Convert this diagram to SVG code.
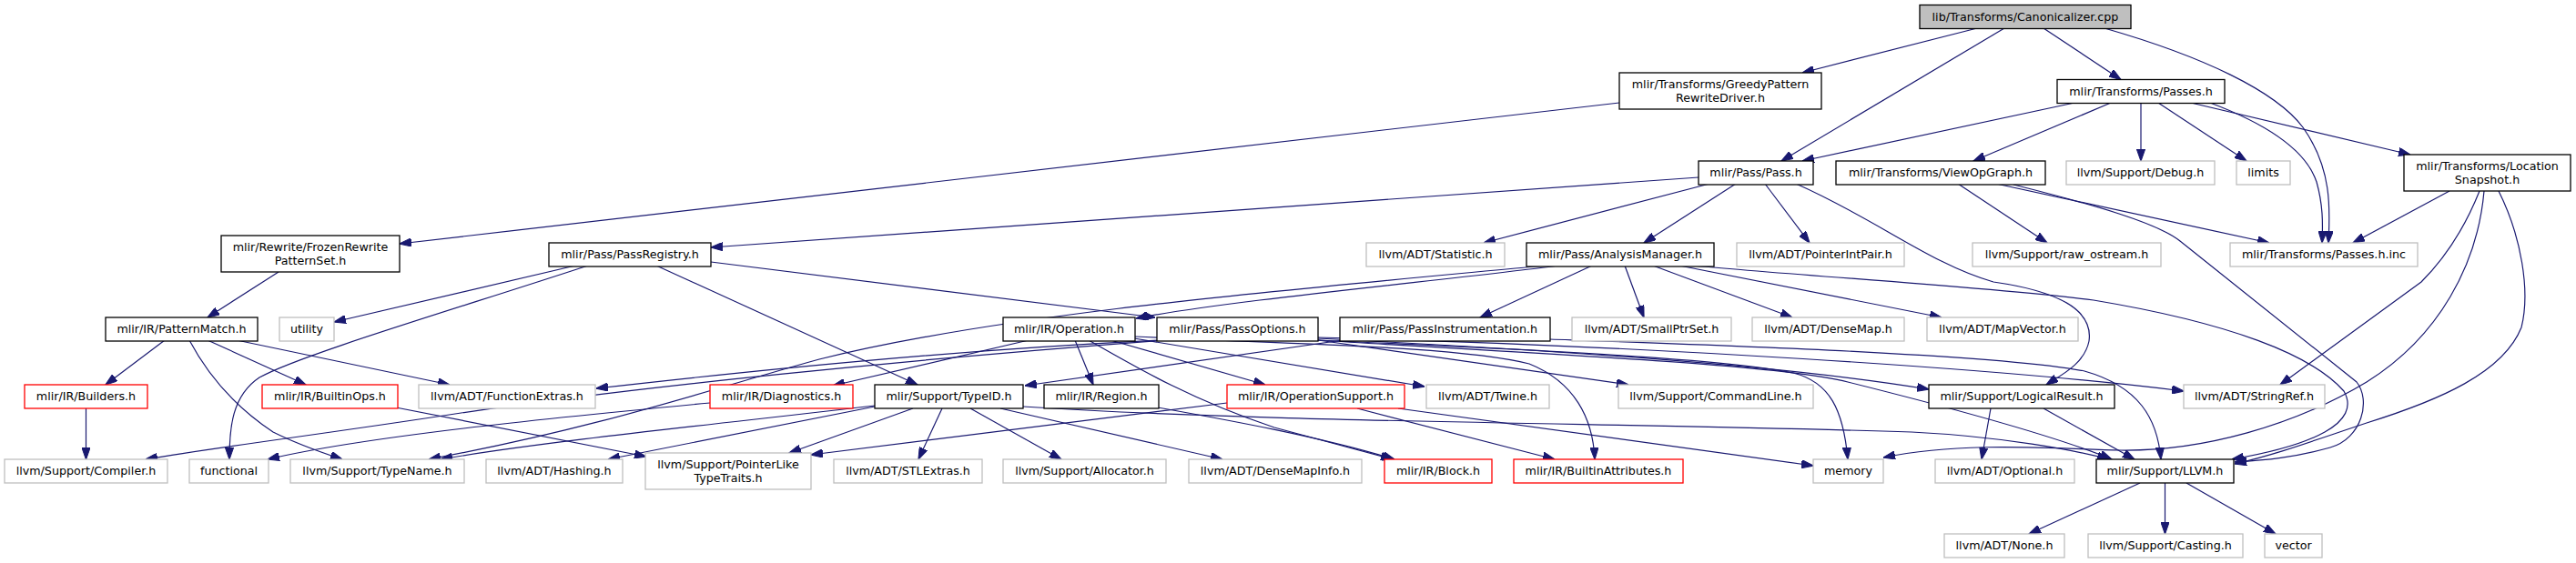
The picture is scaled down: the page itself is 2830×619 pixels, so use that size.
<svg xmlns="http://www.w3.org/2000/svg" width="2830" height="619" viewBox="0 0 2830 619">
<style>
rect{stroke-width:1.3}
.b rect{fill:#fff;stroke:#000}
.g rect{fill:#fff;stroke:#bfbfbf}
.r rect{fill:#fff;stroke:#ff0000}
.root rect{fill:#bfbfbf;stroke:#000}
text{font-family:"DejaVu Sans","Liberation Sans",sans-serif;font-size:12.7px;text-anchor:middle;fill:#000}
#edges path{fill:none;stroke:#191970;stroke-width:1.2;marker-end:url(#a)}
</style>
<defs>
<marker id="a" viewBox="0 0 13.3 9.3" refX="13" refY="4.65" markerWidth="13.3" markerHeight="9.3" markerUnits="userSpaceOnUse" orient="auto">
<path d="M0,0 L13.3,4.65 L0,9.3 z" fill="#191970" stroke="#191970" stroke-width="1"/>
</marker>
</defs>
<rect width="2830" height="619" fill="#fff"/>
<g id="edges">
<path d="M2172,31 L1980,80"/>
<path d="M2202,31 L1957,177"/>
<path d="M2245,31 L2330,87.5"/>
<path d="M2312,31 C2420,62 2500,100 2530,140 C2562,185 2560,230 2558,267"/>
<path d="M1779,113 L439,268"/>
<path d="M2279,113 L1980,177"/>
<path d="M2319,113 L2168,177"/>
<path d="M2352,113 L2352,177"/>
<path d="M2371,113 L2468,177"/>
<path d="M2407,113 L2648,170"/>
<path d="M2428,113 C2500,140 2535,170 2545,200 C2552,225 2552,245 2551,267"/>
<path d="M1866,195 L781,272"/>
<path d="M1878,202 L1630,267"/>
<path d="M1907,202 L1806,267"/>
<path d="M1939,202 L1988,267"/>
<path d="M1973,202 C2060,240 2120,290 2190,310 C2260,320 2300,340 2295,375 C2290,400 2265,412 2248,423"/>
<path d="M2151,202 L2249,267"/>
<path d="M2193,202 L2493,267"/>
<path d="M2212,203 C2300,225 2370,245 2395,265 L2589,420 C2605,440 2595,482 2560,492 C2520,503 2490,506 2455,508"/>
<path d="M2691,210 L2585,267"/>
<path d="M2724,210 C2710,245 2690,280 2660,310 L2505,423"/>
<path d="M2729,210 C2722,290 2680,370 2600,420 C2520,468 2420,496 2330,495 C2250,493 2160,485 2069,503"/>
<path d="M2745,210 C2770,260 2780,320 2770,360 C2750,410 2680,440 2600,465 C2540,485 2500,500 2455,510"/>
<path d="M306,299 L228,349"/>
<path d="M632,292 L367,354"/>
<path d="M646,292 C500,340 330,390 285,415 C255,435 252,470 252,505"/>
<path d="M721,292 L1008,423"/>
<path d="M781,288 L1269,349"/>
<path d="M181,374 L116,423"/>
<path d="M208,374 C235,425 270,455 300,475 C330,490 355,498 376,505"/>
<path d="M228,374 L336,423"/>
<path d="M260,374 L494,423"/>
<path d="M94.5,449 L94.5,505"/>
<path d="M435,448 L710,502"/>
<path d="M1712,292 C1600,307 1350,330 1248,350"/>
<path d="M1697,292 C1400,320 1100,345 900,395 C780,428 660,470 471,505"/>
<path d="M1749,292 L1626,349"/>
<path d="M1785,292 L1806,349"/>
<path d="M1816,292 L1969,349"/>
<path d="M1845,292 L2133,349"/>
<path d="M1860,292 C2000,305 2180,315 2300,330 C2450,355 2540,390 2575,430 C2595,465 2540,490 2452,505"/>
<path d="M1703,373 C1900,380 2200,390 2290,408 C2350,425 2370,460 2374,505"/>
<path d="M1475,374 L1126,424"/>
<path d="M1275,374 C1050,385 850,405 655,427"/>
<path d="M1280,374 C1000,395 700,425 500,455 C350,478 250,490 160,505"/>
<path d="M780,443 C600,460 400,480 294,505"/>
<path d="M1448,374 L1789,423"/>
<path d="M1448,372 C1700,385 1950,400 2119,428"/>
<path d="M1448,371 C1800,380 2200,405 2399,430"/>
<path d="M1448,374 C1700,390 1950,400 2030,420 C2150,450 2260,480 2320,505"/>
<path d="M1448,374 C1700,385 1900,395 1970,410 C2010,420 2025,450 2030,505"/>
<path d="M1130,374 L915,424"/>
<path d="M1181,374 L1201,423"/>
<path d="M1220,374 L1390,423"/>
<path d="M1246,372 L1565,425"/>
<path d="M1196,374 C1250,405 1310,440 1400,470 L1530,505"/>
<path d="M1247,370 C1400,378 1600,380 1680,400 C1730,420 1750,460 1752,505"/>
<path d="M1003,449 L867,498"/>
<path d="M1035,449 L1009,505"/>
<path d="M1066,449 L1166,505"/>
<path d="M1099,449 L1343,505"/>
<path d="M961,447 L668,505"/>
<path d="M961,446 C800,465 600,485 484,505"/>
<path d="M1124,447 C1400,465 1800,465 2100,475 C2200,480 2280,495 2317,505"/>
<path d="M1272,448 C1350,462 1450,480 1532,505"/>
<path d="M1348,443 L891,500"/>
<path d="M1491,449 L1708,505"/>
<path d="M1536,449 L1992,512"/>
<path d="M2187,449 L2177,505"/>
<path d="M2245,449 L2345,505"/>
<path d="M2351,531 L2229,587"/>
<path d="M2378.5,531 L2378.5,587"/>
<path d="M2402,531 L2500,587"/>
</g>
<g id="canonicalizer" class="root"><rect x="2109" y="5.5" width="232" height="26"/><text x="2225" y="22.5">lib/Transforms/Canonicalizer.cpp</text></g>
<g id="greedy" class="b"><rect x="1779" y="80" width="222" height="40"/><text x="1890" y="97">mlir/Transforms/GreedyPattern</text><text x="1890" y="111.7">RewriteDriver.h</text></g>
<g id="passes_h" class="b"><rect x="2260" y="87.5" width="184" height="26"/><text x="2352" y="104.5">mlir/Transforms/Passes.h</text></g>
<g id="pass_h" class="b"><rect x="1866" y="177" width="126" height="26"/><text x="1929" y="194">mlir/Pass/Pass.h</text></g>
<g id="viewopgraph" class="b"><rect x="2017" y="177" width="230" height="26"/><text x="2132" y="194">mlir/Transforms/ViewOpGraph.h</text></g>
<g id="debug" class="g"><rect x="2270" y="177" width="163" height="26"/><text x="2351.5" y="194">llvm/Support/Debug.h</text></g>
<g id="limits" class="g"><rect x="2457" y="177" width="59" height="26"/><text x="2486.5" y="194">limits</text></g>
<g id="locsnap" class="b"><rect x="2641" y="170" width="183" height="40"/><text x="2732.5" y="187">mlir/Transforms/Location</text><text x="2732.5" y="201.7">Snapshot.h</text></g>
<g id="frozen" class="b"><rect x="243" y="259" width="196" height="40"/><text x="341" y="276">mlir/Rewrite/FrozenRewrite</text><text x="341" y="290.7">PatternSet.h</text></g>
<g id="passregistry" class="b"><rect x="603" y="267" width="178" height="26"/><text x="692" y="284">mlir/Pass/PassRegistry.h</text></g>
<g id="statistic" class="g"><rect x="1501" y="267" width="152" height="26"/><text x="1577" y="284">llvm/ADT/Statistic.h</text></g>
<g id="analysismanager" class="b"><rect x="1677" y="267" width="206" height="26"/><text x="1780" y="284">mlir/Pass/AnalysisManager.h</text></g>
<g id="pointerintpair" class="g"><rect x="1908" y="267" width="184" height="26"/><text x="2000" y="284">llvm/ADT/PointerIntPair.h</text></g>
<g id="raw_ostream" class="g"><rect x="2167" y="267" width="207" height="26"/><text x="2270.5" y="284">llvm/Support/raw_ostream.h</text></g>
<g id="passes_inc" class="g"><rect x="2450" y="267" width="206" height="26"/><text x="2553" y="284">mlir/Transforms/Passes.h.inc</text></g>
<g id="patternmatch" class="b"><rect x="116" y="349" width="167" height="26"/><text x="199.5" y="366">mlir/IR/PatternMatch.h</text></g>
<g id="utility" class="g"><rect x="307" y="349" width="60" height="26"/><text x="337" y="366">utility</text></g>
<g id="operation" class="b"><rect x="1102" y="349" width="145" height="26"/><text x="1174.5" y="366">mlir/IR/Operation.h</text></g>
<g id="passoptions" class="b"><rect x="1271" y="349" width="177" height="26"/><text x="1359.5" y="366">mlir/Pass/PassOptions.h</text></g>
<g id="passinstrumentation" class="b"><rect x="1472" y="349" width="231" height="26"/><text x="1587.5" y="366">mlir/Pass/PassInstrumentation.h</text></g>
<g id="smallptrset" class="g"><rect x="1727" y="349" width="175" height="26"/><text x="1814.5" y="366">llvm/ADT/SmallPtrSet.h</text></g>
<g id="densemap" class="g"><rect x="1925" y="349" width="167" height="26"/><text x="2008.5" y="366">llvm/ADT/DenseMap.h</text></g>
<g id="mapvector" class="g"><rect x="2117" y="349" width="166" height="26"/><text x="2200" y="366">llvm/ADT/MapVector.h</text></g>
<g id="builders" class="r"><rect x="27" y="423" width="135" height="26"/><text x="94.5" y="440">mlir/IR/Builders.h</text></g>
<g id="builtinops" class="r"><rect x="288" y="423" width="149" height="26"/><text x="362.5" y="440">mlir/IR/BuiltinOps.h</text></g>
<g id="functionextras" class="g"><rect x="460" y="423" width="194" height="26"/><text x="557" y="440">llvm/ADT/FunctionExtras.h</text></g>
<g id="diagnostics" class="r"><rect x="780" y="423" width="157" height="26"/><text x="858.5" y="440">mlir/IR/Diagnostics.h</text></g>
<g id="typeid" class="b"><rect x="961" y="423" width="163" height="26"/><text x="1042.5" y="440">mlir/Support/TypeID.h</text></g>
<g id="region" class="b"><rect x="1147" y="423" width="126" height="26"/><text x="1210" y="440">mlir/IR/Region.h</text></g>
<g id="operationsupport" class="r"><rect x="1348" y="423" width="195" height="26"/><text x="1445.5" y="440">mlir/IR/OperationSupport.h</text></g>
<g id="twine" class="g"><rect x="1567" y="423" width="135" height="26"/><text x="1634.5" y="440">llvm/ADT/Twine.h</text></g>
<g id="commandline" class="g"><rect x="1778" y="423" width="214" height="26"/><text x="1885" y="440">llvm/Support/CommandLine.h</text></g>
<g id="logicalresult" class="b"><rect x="2119" y="423" width="204" height="26"/><text x="2221" y="440">mlir/Support/LogicalResult.h</text></g>
<g id="stringref" class="g"><rect x="2399" y="423" width="155" height="26"/><text x="2476.5" y="440">llvm/ADT/StringRef.h</text></g>
<g id="compiler" class="g"><rect x="5" y="505" width="179" height="26"/><text x="94.5" y="522">llvm/Support/Compiler.h</text></g>
<g id="functional" class="g"><rect x="208" y="505" width="87" height="26"/><text x="251.5" y="522">functional</text></g>
<g id="typename" class="g"><rect x="319" y="505" width="191" height="26"/><text x="414.5" y="522">llvm/Support/TypeName.h</text></g>
<g id="hashing" class="g"><rect x="534" y="505" width="150" height="26"/><text x="609" y="522">llvm/ADT/Hashing.h</text></g>
<g id="pointerlike" class="g"><rect x="709" y="498" width="182" height="40"/><text x="800" y="515">llvm/Support/PointerLike</text><text x="800" y="529.7">TypeTraits.h</text></g>
<g id="stlextras" class="g"><rect x="916" y="505" width="163" height="26"/><text x="997.5" y="522">llvm/ADT/STLExtras.h</text></g>
<g id="allocator" class="g"><rect x="1102" y="505" width="179" height="26"/><text x="1191.5" y="522">llvm/Support/Allocator.h</text></g>
<g id="densemapinfo" class="g"><rect x="1306" y="505" width="190" height="26"/><text x="1401" y="522">llvm/ADT/DenseMapInfo.h</text></g>
<g id="block" class="r"><rect x="1521" y="505" width="118" height="26"/><text x="1580" y="522">mlir/IR/Block.h</text></g>
<g id="builtinattributes" class="r"><rect x="1663" y="505" width="186" height="26"/><text x="1756" y="522">mlir/IR/BuiltinAttributes.h</text></g>
<g id="memory" class="g"><rect x="1992" y="505" width="77" height="26"/><text x="2030.5" y="522">memory</text></g>
<g id="optional" class="g"><rect x="2126" y="505" width="153" height="26"/><text x="2202.5" y="522">llvm/ADT/Optional.h</text></g>
<g id="llvm_h" class="b"><rect x="2303" y="505" width="151" height="26"/><text x="2378.5" y="522">mlir/Support/LLVM.h</text></g>
<g id="none" class="g"><rect x="2136" y="587" width="132" height="26"/><text x="2202" y="604">llvm/ADT/None.h</text></g>
<g id="casting" class="g"><rect x="2294" y="587" width="170" height="26"/><text x="2379" y="604">llvm/Support/Casting.h</text></g>
<g id="vector" class="g"><rect x="2488" y="587" width="63" height="26"/><text x="2519.5" y="604">vector</text></g>
</svg>
